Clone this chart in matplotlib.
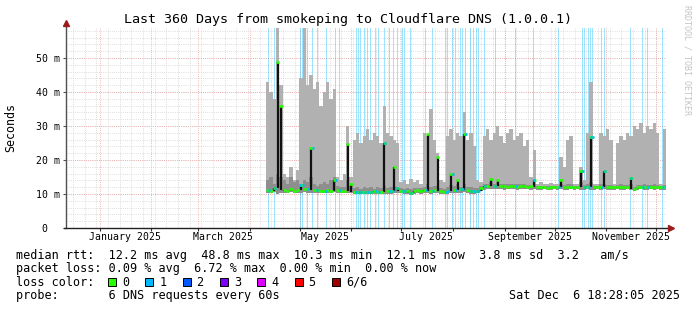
import numpy as np
import pandas as pd
import matplotlib
matplotlib.use('Agg')
import matplotlib.pyplot as plt
from matplotlib.patches import Rectangle

# time axis: days since the start of the 360 day window
start = pd.Timestamp('2024-12-11 18:28:05')
span_days = 360
first_day = 120
step_days = 2

# smoke (max ping), inner smoke band, min ping and median rtt in ms, one value per 2 days
smoke_top = [43, 40, 38, 60, 42,
             16, 15, 18, 14, 17,
             44, 60, 42, 45, 41, 43,
             36, 40, 43, 38, 41,
             15, 14, 16, 30, 15,
             26, 28, 25, 27, 29, 26, 28, 27, 25, 36, 28, 27, 26, 25,
             13.5, 14, 13, 14.5, 13.5, 14, 13,
             28, 27, 35, 26,
             22, 14, 13.5,
             27, 29, 26, 28, 27, 34, 26, 28, 24,
             14, 13.5,
             27, 29, 26, 28, 30, 27, 25, 28, 29, 26, 27, 28, 24, 26,
             15, 23,
             13, 13.5, 13, 12.8, 13.2, 13, 13,
             21, 18,
             26, 27, 13, 13, 18, 14, 28, 43, 13, 13,
             28, 27, 29, 26, 13,
             25, 27, 26, 28, 27, 30, 29, 31, 28, 30, 29, 31, 28,
             13, 29]

smoke_mid = [14, 15, 13, 16, 15,
             14, 13, 15, 13.5, 14,
             13, 14, 13.5, 15, 13, 12.5, 13, 13.5, 13, 14, 15,
             12.5, 12, 12.2, 14, 12.5,
             11.8, 12, 11.6, 12.2, 11.8, 12, 11.5, 12, 11.8, 12.5, 11.7, 12, 12.4, 12,
             11.8, 11.6, 11.7, 11.5, 11.8, 11.9, 11.7,
             12.2, 13, 12, 12.5, 12.4, 11.8, 11.6,
             12, 12.6, 12.4, 12.8, 12.2, 13, 12.2, 12, 11.8, 11.8,
             12.4, 12.8, 13, 13.4, 13, 13.5, 13, 12.9, 12.8, 13, 12.9, 12.8, 13, 12.8, 12.7, 12.6,
             12.8, 12.4, 12.5, 12.4, 12.3, 12.4, 12.5, 12.4, 13, 12.6,
             12.8, 12.9, 12.5, 12.4, 13.5, 12.6, 12.8, 13.5, 12.4, 12.3,
             12.8, 13, 12.7, 12.6, 12.4, 12.6, 12.8, 12.7, 12.6, 13,
             12.2, 12.6, 12.7, 12.8, 12.6, 12.7, 12.8, 12.6, 12.4, 12.7]

smoke_low = [10.4, 10.2, 10.5, 10.1, 10.3, 10.4, 10.3, 10.5, 10.2, 10.4,
             10.3, 10.5, 10.4, 10.2, 10.3, 10.4, 10.2, 10.3, 10.4, 10.3,
             10.5, 10.3, 10.2, 10.4, 10.3, 10.2, 10.0, 9.9, 10.1, 10.0,
             9.9, 10.0, 10.1, 10.0, 9.9, 10.1, 10.0, 10.1, 10.2, 10.3,
             10.2, 10.0, 10.1, 9.8, 10.1, 10.2, 10.0, 10.2, 10.3, 10.1,
             10.2, 10.3, 10.1, 9.9, 10.1, 10.3, 10.2, 10.4, 10.2, 10.5,
             10.2, 10.1, 10.0, 10.2,
             10.8, 11.2, 11.4, 11.5, 11.4, 11.5, 11.4, 11.3, 11.4, 11.5,
             11.4, 11.3, 11.4, 11.5, 11.4, 11.3, 11.4, 11.2, 11.3, 11.4,
             11.2, 11.3, 11.4, 11.3, 11.4, 11.3, 11.2, 11.4, 11.3, 11.4,
             11.3, 11.2, 11.4, 11.3, 11.2, 11.4, 11.3, 11.4, 11.3, 11.2,
             11.3, 11.4, 11.2, 11.3, 11.4, 11.3, 10.8, 11.3, 11.4, 11.3,
             11.2, 11.4, 11.3, 11.4, 11.3, 11.3]

median_rtt = [11.3, 11.0, 11.8, 48.8, 35.8,
              11.2, 11.0, 11.4, 11.0, 11.2,
              12.6, 11.4, 11.5, 23.5, 11.3, 11.1,
              11.0, 10.8, 11.1, 11.0, 14.2,
              11.2, 10.9, 11.0, 24.6, 12.8,
              10.6, 10.5, 10.7, 10.6, 10.5, 10.6, 10.8, 10.6, 10.7, 25.0, 10.8, 10.9, 18.0, 11.8,
              11.0, 10.8, 11.0, 10.3, 11.0, 11.1, 10.9,
              11.2, 27.6, 11.0, 11.2, 21.0, 11.0, 10.7,
              11.0, 15.9, 11.2, 14.0, 11.5, 27.6, 11.2, 11.0, 11.0, 11.0,
              11.8, 12.3, 12.5, 14.4, 12.3, 14.0, 12.4, 12.3, 12.2, 12.4, 12.3, 12.2, 12.4, 12.3, 12.2, 12.5,
              14.0, 12.0, 12.2, 12.0, 11.9, 12.0, 12.0, 12.0, 14.2, 12.0,
              12.0, 12.1, 12.0, 12.0, 16.8, 12.0, 12.1, 26.8, 12.0, 12.0,
              12.1, 16.8, 12.0, 12.1, 12.0, 12.0, 12.1, 12.0, 12.0, 14.7,
              11.5, 12.0, 12.0, 12.0, 12.0, 12.1, 12.0, 12.0, 12.0, 12.0]

# days with 1/6 packet loss
loss_days = [121.2, 124.8, 140.1, 141.6, 144.6, 147.6, 150.3, 155.7, 161.4, 163.8,
             173.7, 175.2, 176.4, 178.8, 180.6, 182.4, 185.4, 187.2, 190.8, 193.8,
             195.9, 198.3, 201.6, 202.8, 206.4, 215.4, 219.6, 227.4, 228.6, 231.6,
             233.4, 236.4, 237.6, 239.4, 242.4, 244.2, 246.0, 247.2, 250.8, 257.4,
             269.4, 280.2, 295.2, 309.6, 310.8, 313.2, 314.4, 315.6, 321.0, 322.8,
             338.4, 345.6, 348.6, 357.6]

y_ticks = [0, 10, 20, 30, 40, 50]
y_tick_labels = ['0  ', '10 m', '20 m', '30 m', '40 m', '50 m']
month_labels = ['January 2025', 'March 2025', 'May 2025', 'July 2025',
                'September 2025', 'November 2025']

title = 'Last 360 Days from smokeping to Cloudflare DNS (1.0.0.1)'
legend_rows = ['median rtt:  12.2 ms avg  48.8 ms max  10.3 ms min  12.1 ms now  3.8 ms sd  3.2   am/s',
               'packet loss: 0.09 % avg  6.72 % max  0.00 % min  0.00 % now',
               'loss color:',
               'probe:       6 DNS requests every 60s']
loss_names = ['0', '1', '2', '3', '4', '5', '6/6']
loss_colors = ['#26ff00', '#00b8ff', '#0059ff', '#7e00ff', '#dd00ff', '#ff0000', '#a10000']
stamp = 'Sat Dec  6 18:28:05 2025'

mono = 'DejaVu Sans Mono'
W, H = 697, 310

fig = plt.figure(figsize=(W / 100, H / 100), dpi=100)
fig.patch.set_facecolor('white')
ax = fig.add_axes([66 / W, (H - 228) / H, 600 / W, 200 / H])
ymax = 200 / 3.4
ax.set_xlim(0, span_days)
ax.set_ylim(0, ymax)

def day_of(ts):
    return (ts - start) / pd.Timedelta(days=1)

# grid, weekly + every 2 ms minor, months + every 10 ms major
dot = (0, (1, 1.6))
mondays = pd.date_range('2024-12-16', '2025-12-06', freq='W-MON')
for d in mondays:
    ax.axvline(day_of(d), color='#d2d2d2', lw=0.6, ls=dot, zorder=0)
for v in np.arange(2, ymax, 2):
    ax.axhline(v, color='#d2d2d2', lw=0.6, ls=dot, zorder=0)
month_starts = pd.date_range('2025-01-01', '2025-12-01', freq='MS')
for d in month_starts:
    ax.axvline(day_of(d), color='#f0a0a0', lw=0.6, ls=dot, zorder=0.5)
for v in y_ticks[1:]:
    ax.axhline(v, color='#f0a0a0', lw=0.6, ls=dot, zorder=0.5)

# loss bars
for d in loss_days:
    ax.axvspan(d, d + 0.7, color='#00b8ff', alpha=0.38, lw=0, zorder=1)

days = first_day + step_days * np.arange(len(median_rtt))
edges = np.append(days, days[-1] + step_days)

def ext(a):
    return np.append(a, a[-1])

ax.fill_between(edges, ext(smoke_low), ext(smoke_top), step='post', color='#b1b1b1', lw=0, zorder=2)
ax.fill_between(edges, ext(smoke_low), ext(smoke_mid), step='post', color='#8e8e8e', lw=0, zorder=3)

# median: black jumps in the middle of each step, loss coloured dashes on top
med = np.array(median_rtt)
prev = np.append(med[0], med[:-1])
nxt = np.append(med[1:], med[-1])
base = np.minimum(np.minimum(prev, nxt), med)
ax.vlines(days + step_days / 2, base, med, colors='#111111', lw=1.6, zorder=4)
ax.hlines(med, days, days + step_days, colors=loss_colors[0], lw=1.9, zorder=5)

# median points that lost one ping
for d in loss_days:
    i = int((d - first_day) // step_days)
    if 0 <= i < len(med):
        ax.hlines(med[i], d - 0.3, d + 0.9, colors=loss_colors[1], lw=1.9, zorder=6)

# axes
for s in ['top', 'right', 'left', 'bottom']:
    ax.spines[s].set_visible(False)
ax.plot([0, 0], [0, ymax + 1.2], color='#505050', lw=1, clip_on=False, zorder=6)
ax.plot([-1.5, span_days + 2.5], [0, 0], color='#202020', lw=1, clip_on=False, zorder=6)
ax.plot(0, ymax + 1.6, marker='^', ms=4.5, color='#9b1c1c', clip_on=False, zorder=7)
ax.plot(span_days + 3.2, 0, marker='>', ms=4.5, color='#9b1c1c', clip_on=False, zorder=7)

ax.set_yticks(y_ticks)
ax.set_yticklabels(y_tick_labels, family=mono, fontsize=7.1)
ax.tick_params(axis='y', length=2, width=0.8, color='#505050', pad=2.5)

ax.set_xticks([day_of(d) for d in month_starts])
ax.set_xticklabels([])
ax.tick_params(axis='x', which='major', length=2, width=0.8, color='#303030')
label_pos = [day_of(d) + 15 for d in month_starts[::2]]
ax.set_xticks(label_pos, minor=True)
ax.set_xticklabels(month_labels, minor=True, family=mono, fontsize=7.1)
ax.tick_params(axis='x', which='minor', length=0, pad=3.2)

fig.text(11 / W, 1 - 128 / H, 'Seconds', family=mono, fontsize=8.4, rotation=90,
         ha='center', va='center')
fig.text(0.5, 1 - 19 / H, title, family=mono, fontsize=9.6, ha='center', va='center')
fig.text(687 / W, 1 - 60 / H, 'RRDTOOL / TOBI OETIKER', family=mono, fontsize=6,
         rotation=270, color='#c4c4c4', ha='center', va='center')

row_y = [255, 268.5, 282, 295.5]
for txt, y in zip(legend_rows, row_y):
    fig.text(16 / W, 1 - y / H, txt, family=mono, fontsize=8.5, ha='left', va='center')
fig.text(680 / W, 1 - row_y[3] / H, stamp, family=mono, fontsize=8.5, ha='right', va='center')

for k, (name, col) in enumerate(zip(loss_names, loss_colors)):
    bx = 108 + 37.3 * k
    fig.add_artist(Rectangle((bx / W, 1 - (row_y[2] + 4) / H), 8 / W, 8 / H,
                             transform=fig.transFigure, facecolor=col,
                             edgecolor='black', lw=0.7))
    fig.text((bx + 14) / W, 1 - row_y[2] / H, name, family=mono, fontsize=8.5,
             ha='left', va='center')

fig.savefig('out.png', dpi=100, facecolor='white')
